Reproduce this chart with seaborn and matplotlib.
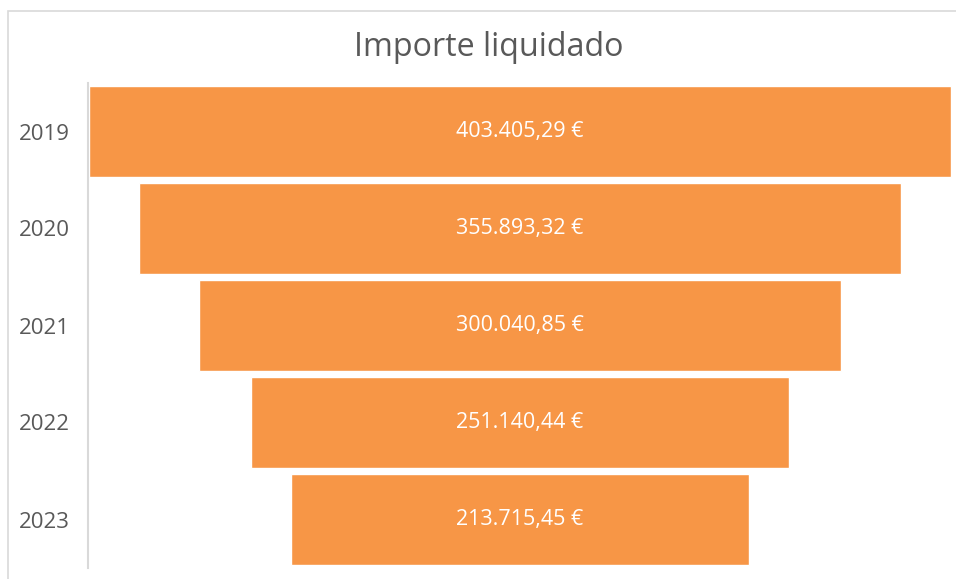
import numpy as np
import matplotlib
matplotlib.use("Agg")
import matplotlib.pyplot as plt
import matplotlib.patches as mpatches
import seaborn as sns

years = ["2019", "2020", "2021", "2022", "2023"]
importe = [403405.29, 355893.32, 300040.85, 251140.44, 213715.45]

ORANGE = "#F79646"
GREY_TXT = "#595959"
GREY_LINE = "#D9D9D9"


def euro(v):
    s = f"{v:,.2f}"
    s = s.replace(",", "X").replace(".", ",").replace("X", ".")
    return s + " €"


sns.set_theme(style="white")
plt.rcParams['font.family'] = ['Open Sans', 'DejaVu Sans']

fig = plt.figure(figsize=(9.56, 5.79), dpi=100)
ax = fig.add_axes([88 / 956, 11 / 579, 864 / 956, 485 / 579])

sns.barplot(x=importe, y=years, color=ORANGE, saturation=1, width=0.94,
            orient="h", ax=ax)

# funnel: centre each bar on zero
for p, v, y in zip(ax.patches, importe, years):
    p.set_x(-v / 2)
    ax.text(0, p.get_y() + p.get_height() / 2, euro(v), ha="center", va="center",
            color="white", fontsize=15.5)

vmax = max(importe)
ax.set_xlim(-vmax / 2 - 300, vmax / 2 + 300)
ax.set_ylim(4.5, -0.5)
ax.set_xticks([])
ax.set_xlabel("")
ax.set_ylabel("")
ax.tick_params(axis="y", length=0, pad=13, labelsize=16, labelcolor=GREY_TXT)
for s in ["top", "right", "bottom"]:
    ax.spines[s].set_visible(False)
ax.spines["left"].set_color(GREY_LINE)
ax.spines["left"].set_linewidth(1.5)

fig.text(489 / 956, 1 - 47 / 579, "Importe liquidado", ha="center", va="center",
         fontsize=23.2, color=GREY_TXT)

# chart area border (cut off on the right and bottom)
fig.patches.append(mpatches.Rectangle((7.5 / 956, -0.1), 1.2, 1.1 - 10.5 / 579,
                                      transform=fig.transFigure, fill=False,
                                      edgecolor=GREY_LINE, linewidth=1.2))

fig.savefig("out.png", dpi=100)
